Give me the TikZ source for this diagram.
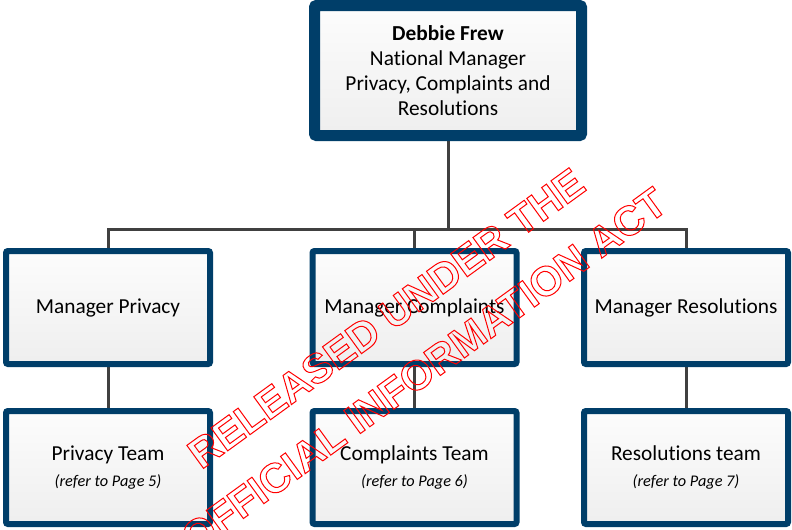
\documentclass[tikz,border=0pt]{standalone}
\usepackage{fontspec}
\setmainfont{Carlito}[Ligatures=NoCommon]
\newfontfamily\stampfont{Liberation Sans}
\usetikzlibrary{backgrounds,shadows}
\definecolor{navy}{HTML}{003E69}
\definecolor{linkgray}{HTML}{404040}
% hollow letters for the stamp
\newcommand{\outl}[1]{\special{pdf:literal direct 1 Tr 0.75 w}#1\special{pdf:literal direct 0 Tr}}

\begin{document}
\begin{tikzpicture}[x=0.75pt, y=-0.75pt,
  box/.style={draw=navy, line width=4.5pt, rounded corners=1.5pt, top color=gray!2, bottom color=gray!13,
    drop shadow={shadow xshift=1.5pt, shadow yshift=-1.5pt, opacity=0.15},
    minimum width=153pt, minimum height=84.75pt, inner sep=0pt, align=center,
    font=\fontsize{16}{18.75}\selectfont},
  topbox/.style={box, line width=8.25pt, minimum width=200.25pt, minimum height=97.5pt},
  link/.style={draw=linkgray, line width=2.25pt},
  stamp/.style={text=red, align=center, font=\stampfont\bfseries\fontsize{31}{48}\selectfont}]
\useasboundingbox (0,0) rectangle (792,529);
% top of the chart
\node[topbox] (head) at (448,70.5) {\textbf{Debbie Frew}\\National Manager\\Privacy, Complaints and\\Resolutions};
% managers
\node[box] (mgrpriv) at (108,307.5) {Manager Privacy};
\node[box] (mgrcomp) at (414.5,307.5) {Manager Complaints};
\node[box] (mgrres) at (686,307.5) {Manager Resolutions};
% teams
\node[box] (teampriv) at (108,467.5) {Privacy Team\\[1pt]{\fontsize{12.2}{14}\itshape (refer to Page 5)}};
\node[box] (teamcomp) at (414.5,467.5) {Complaints Team\\[1pt]{\fontsize{12.2}{14}\itshape (refer to Page 6)}};
\node[box] (teamres) at (686,467.5) {Resolutions team\\[1pt]{\fontsize{12.2}{14}\itshape (refer to Page 7)}};
\coordinate (bus) at (448,229);
\begin{scope}[on background layer]
\draw[link] (head.south) -- (bus);
\draw[link] (bus) -| (mgrpriv.north);
\draw[link] (bus) -| (mgrcomp.north);
\draw[link] (bus) -| (mgrres.north);
\draw[link] (mgrpriv.south) -- (teampriv.north);
\draw[link] (mgrcomp.south) -- (teamcomp.north);
\draw[link] (mgrres.south) -- (teamres.north);
\end{scope}
% stamp over everything
\node[stamp, rotate=36] (release) at (405,344) {\outl{RELEASED UNDER THE}\\\outl{OFFICIAL INFORMATION ACT}};
\end{tikzpicture}
\end{document}
